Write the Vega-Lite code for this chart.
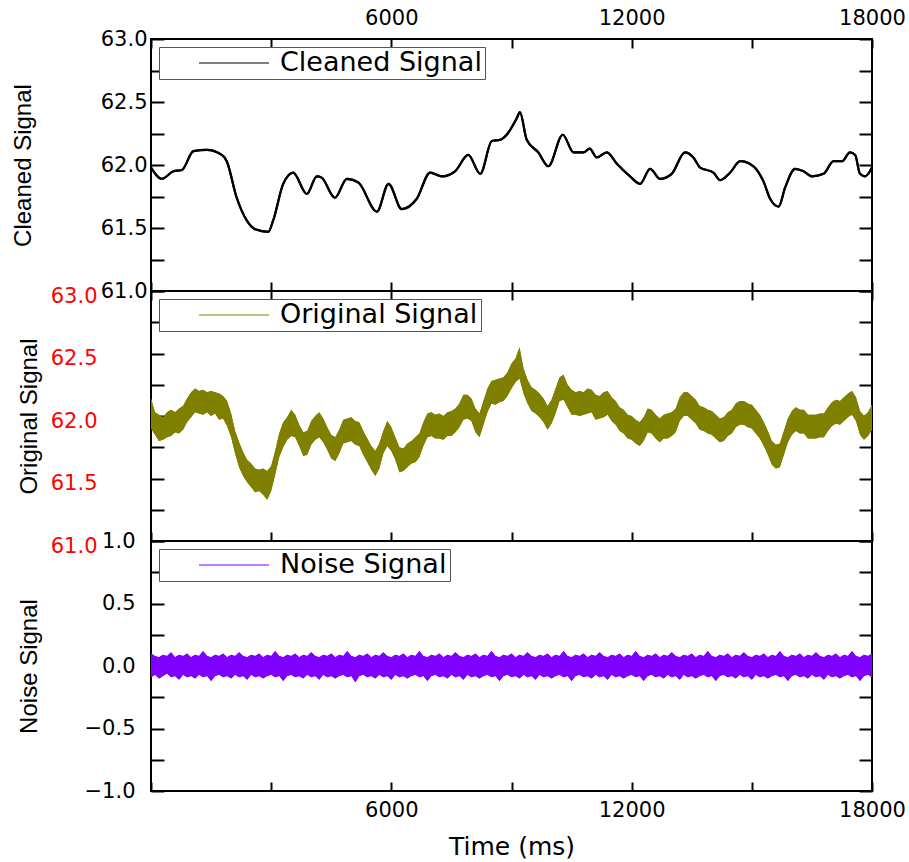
{
  "$schema": "https://vega.github.io/schema/vega-lite/v6.json",
  "padding": {"left": 10, "top": 6, "right": 5, "bottom": 0},
  "background": "white",
  "bounds": "flush",
  "spacing": 0,
  "datasets": {
    "clean": [
      {"t":0,"v":61.98},{"t":270,"v":61.89},{"t":560,"v":61.95},{"t":770,"v":61.96},{"t":1060,"v":62.11},{"t":1390,"v":62.12},{"t":1770,"v":62.08},{"t":1890,"v":62.03},{"t":2140,"v":61.74},{"t":2390,"v":61.56},{"t":2600,"v":61.49},{"t":2930,"v":61.47},{"t":3050,"v":61.56},{"t":3300,"v":61.85},{"t":3550,"v":61.94},{"t":3890,"v":61.77},{"t":4140,"v":61.91},{"t":4260,"v":61.90},{"t":4590,"v":61.74},{"t":4890,"v":61.89},{"t":5180,"v":61.86},{"t":5640,"v":61.63},{"t":5930,"v":61.85},{"t":6260,"v":61.65},{"t":6630,"v":61.73},{"t":6970,"v":61.94},{"t":7260,"v":61.91},{"t":7590,"v":61.95},{"t":7920,"v":62.08},{"t":8220,"v":61.93},{"t":8510,"v":62.19},{"t":8720,"v":62.20},{"t":8880,"v":62.24},{"t":9130,"v":62.37},{"t":9210,"v":62.42},{"t":9380,"v":62.20},{"t":9670,"v":62.10},{"t":9920,"v":61.99},{"t":10280,"v":62.24},{"t":10550,"v":62.10},{"t":10800,"v":62.10},{"t":10950,"v":62.13},{"t":11130,"v":62.06},{"t":11380,"v":62.10},{"t":11630,"v":62.01},{"t":11960,"v":61.91},{"t":12210,"v":61.85},{"t":12460,"v":61.97},{"t":12710,"v":61.89},{"t":13000,"v":61.93},{"t":13330,"v":62.10},{"t":13540,"v":62.06},{"t":13710,"v":61.98},{"t":14040,"v":61.94},{"t":14210,"v":61.88},{"t":14460,"v":61.94},{"t":14710,"v":62.03},{"t":15040,"v":61.99},{"t":15290,"v":61.87},{"t":15460,"v":61.73},{"t":15670,"v":61.67},{"t":15830,"v":61.82},{"t":16080,"v":61.97},{"t":16290,"v":61.95},{"t":16500,"v":61.91},{"t":16790,"v":61.93},{"t":17040,"v":62.03},{"t":17250,"v":62.03},{"t":17450,"v":62.10},{"t":17580,"v":62.08},{"t":17700,"v":61.93},{"t":17830,"v":61.91},{"t":18000,"v":61.98}
    ],
    "band": [
      {"t":0,"lo":61.90,"hi":62.14,"nl":-0.09,"nh":0.10},
      {"t":100,"lo":61.85,"hi":62.03,"nl":-0.07,"nh":0.08},
      {"t":200,"lo":61.80,"hi":62.01,"nl":-0.10,"nh":0.07},
      {"t":300,"lo":61.81,"hi":61.99,"nl":-0.08,"nh":0.09},
      {"t":400,"lo":61.83,"hi":62.03,"nl":-0.06,"nh":0.08},
      {"t":500,"lo":61.84,"hi":62.05,"nl":-0.09,"nh":0.11},
      {"t":600,"lo":61.87,"hi":62.03,"nl":-0.08,"nh":0.07},
      {"t":700,"lo":61.86,"hi":62.06,"nl":-0.11,"nh":0.09},
      {"t":800,"lo":61.89,"hi":62.08,"nl":-0.07,"nh":0.08},
      {"t":900,"lo":61.95,"hi":62.14,"nl":-0.09,"nh":0.10},
      {"t":1000,"lo":61.99,"hi":62.19,"nl":-0.08,"nh":0.07},
      {"t":1100,"lo":62.03,"hi":62.22,"nl":-0.10,"nh":0.09},
      {"t":1200,"lo":62.02,"hi":62.20,"nl":-0.07,"nh":0.08},
      {"t":1300,"lo":62.01,"hi":62.21,"nl":-0.09,"nh":0.12},
      {"t":1400,"lo":62.03,"hi":62.19,"nl":-0.08,"nh":0.08},
      {"t":1500,"lo":62.00,"hi":62.20,"nl":-0.12,"nh":0.07},
      {"t":1600,"lo":62.02,"hi":62.19,"nl":-0.08,"nh":0.09},
      {"t":1700,"lo":61.97,"hi":62.18,"nl":-0.07,"nh":0.08},
      {"t":1800,"lo":61.98,"hi":62.16,"nl":-0.09,"nh":0.10},
      {"t":1900,"lo":61.92,"hi":62.12,"nl":-0.08,"nh":0.07},
      {"t":2000,"lo":61.83,"hi":62.02,"nl":-0.10,"nh":0.09},
      {"t":2100,"lo":61.70,"hi":61.88,"nl":-0.07,"nh":0.08},
      {"t":2200,"lo":61.59,"hi":61.79,"nl":-0.09,"nh":0.11},
      {"t":2300,"lo":61.52,"hi":61.71,"nl":-0.08,"nh":0.08},
      {"t":2400,"lo":61.47,"hi":61.65,"nl":-0.11,"nh":0.07},
      {"t":2500,"lo":61.43,"hi":61.62,"nl":-0.07,"nh":0.09},
      {"t":2600,"lo":61.39,"hi":61.58,"nl":-0.09,"nh":0.08},
      {"t":2700,"lo":61.40,"hi":61.57,"nl":-0.08,"nh":0.10},
      {"t":2800,"lo":61.37,"hi":61.58,"nl":-0.10,"nh":0.07},
      {"t":2900,"lo":61.33,"hi":61.56,"nl":-0.08,"nh":0.09},
      {"t":3000,"lo":61.40,"hi":61.60,"nl":-0.07,"nh":0.08},
      {"t":3100,"lo":61.53,"hi":61.72,"nl":-0.09,"nh":0.12},
      {"t":3200,"lo":61.67,"hi":61.86,"nl":-0.08,"nh":0.08},
      {"t":3300,"lo":61.75,"hi":61.95,"nl":-0.12,"nh":0.07},
      {"t":3400,"lo":61.81,"hi":61.99,"nl":-0.08,"nh":0.09},
      {"t":3500,"lo":61.84,"hi":62.05,"nl":-0.07,"nh":0.08},
      {"t":3600,"lo":61.83,"hi":62.01,"nl":-0.09,"nh":0.10},
      {"t":3700,"lo":61.76,"hi":61.93,"nl":-0.08,"nh":0.07},
      {"t":3800,"lo":61.68,"hi":61.87,"nl":-0.10,"nh":0.09},
      {"t":3900,"lo":61.69,"hi":61.88,"nl":-0.07,"nh":0.08},
      {"t":4000,"lo":61.77,"hi":61.96,"nl":-0.09,"nh":0.11},
      {"t":4100,"lo":61.81,"hi":62.00,"nl":-0.08,"nh":0.08},
      {"t":4200,"lo":61.83,"hi":62.03,"nl":-0.11,"nh":0.07},
      {"t":4300,"lo":61.79,"hi":61.98,"nl":-0.07,"nh":0.09},
      {"t":4400,"lo":61.73,"hi":61.91,"nl":-0.09,"nh":0.08},
      {"t":4500,"lo":61.66,"hi":61.85,"nl":-0.08,"nh":0.10},
      {"t":4600,"lo":61.64,"hi":61.83,"nl":-0.10,"nh":0.07},
      {"t":4700,"lo":61.70,"hi":61.89,"nl":-0.08,"nh":0.09},
      {"t":4800,"lo":61.78,"hi":61.97,"nl":-0.07,"nh":0.08},
      {"t":4900,"lo":61.79,"hi":61.98,"nl":-0.09,"nh":0.12},
      {"t":5000,"lo":61.80,"hi":61.99,"nl":-0.08,"nh":0.08},
      {"t":5100,"lo":61.77,"hi":61.96,"nl":-0.13,"nh":0.07},
      {"t":5200,"lo":61.76,"hi":61.95,"nl":-0.08,"nh":0.09},
      {"t":5300,"lo":61.69,"hi":61.88,"nl":-0.07,"nh":0.08},
      {"t":5400,"lo":61.63,"hi":61.82,"nl":-0.09,"nh":0.10},
      {"t":5500,"lo":61.57,"hi":61.76,"nl":-0.08,"nh":0.07},
      {"t":5600,"lo":61.52,"hi":61.72,"nl":-0.10,"nh":0.09},
      {"t":5700,"lo":61.58,"hi":61.78,"nl":-0.07,"nh":0.08},
      {"t":5800,"lo":61.70,"hi":61.88,"nl":-0.09,"nh":0.11},
      {"t":5900,"lo":61.76,"hi":61.96,"nl":-0.08,"nh":0.08},
      {"t":6000,"lo":61.72,"hi":61.91,"nl":-0.11,"nh":0.07},
      {"t":6100,"lo":61.65,"hi":61.83,"nl":-0.07,"nh":0.09},
      {"t":6200,"lo":61.55,"hi":61.75,"nl":-0.09,"nh":0.08},
      {"t":6300,"lo":61.56,"hi":61.74,"nl":-0.08,"nh":0.10},
      {"t":6400,"lo":61.59,"hi":61.78,"nl":-0.10,"nh":0.07},
      {"t":6500,"lo":61.62,"hi":61.80,"nl":-0.08,"nh":0.09},
      {"t":6600,"lo":61.63,"hi":61.83,"nl":-0.07,"nh":0.08},
      {"t":6700,"lo":61.67,"hi":61.86,"nl":-0.09,"nh":0.12},
      {"t":6800,"lo":61.76,"hi":61.95,"nl":-0.08,"nh":0.08},
      {"t":6900,"lo":61.83,"hi":62.02,"nl":-0.12,"nh":0.07},
      {"t":7000,"lo":61.84,"hi":62.03,"nl":-0.08,"nh":0.09},
      {"t":7100,"lo":61.82,"hi":62.01,"nl":-0.07,"nh":0.08},
      {"t":7200,"lo":61.82,"hi":62.02,"nl":-0.09,"nh":0.10},
      {"t":7300,"lo":61.81,"hi":62.00,"nl":-0.08,"nh":0.07},
      {"t":7400,"lo":61.84,"hi":62.03,"nl":-0.10,"nh":0.09},
      {"t":7500,"lo":61.84,"hi":62.04,"nl":-0.07,"nh":0.08},
      {"t":7600,"lo":61.87,"hi":62.06,"nl":-0.09,"nh":0.11},
      {"t":7700,"lo":61.91,"hi":62.10,"nl":-0.08,"nh":0.08},
      {"t":7800,"lo":61.97,"hi":62.17,"nl":-0.11,"nh":0.07},
      {"t":7900,"lo":61.98,"hi":62.17,"nl":-0.07,"nh":0.09},
      {"t":8000,"lo":61.96,"hi":62.14,"nl":-0.09,"nh":0.08},
      {"t":8100,"lo":61.87,"hi":62.06,"nl":-0.08,"nh":0.10},
      {"t":8200,"lo":61.83,"hi":62.02,"nl":-0.10,"nh":0.07},
      {"t":8300,"lo":61.93,"hi":62.12,"nl":-0.08,"nh":0.09},
      {"t":8400,"lo":62.03,"hi":62.22,"nl":-0.07,"nh":0.08},
      {"t":8500,"lo":62.10,"hi":62.28,"nl":-0.09,"nh":0.12},
      {"t":8600,"lo":62.09,"hi":62.29,"nl":-0.08,"nh":0.08},
      {"t":8700,"lo":62.11,"hi":62.30,"nl":-0.12,"nh":0.07},
      {"t":8800,"lo":62.12,"hi":62.31,"nl":-0.08,"nh":0.09},
      {"t":8900,"lo":62.16,"hi":62.35,"nl":-0.07,"nh":0.08},
      {"t":9000,"lo":62.22,"hi":62.42,"nl":-0.09,"nh":0.10},
      {"t":9100,"lo":62.27,"hi":62.46,"nl":-0.08,"nh":0.07},
      {"t":9200,"lo":62.30,"hi":62.55,"nl":-0.10,"nh":0.09},
      {"t":9300,"lo":62.18,"hi":62.38,"nl":-0.07,"nh":0.08},
      {"t":9400,"lo":62.10,"hi":62.29,"nl":-0.09,"nh":0.11},
      {"t":9500,"lo":62.04,"hi":62.23,"nl":-0.08,"nh":0.08},
      {"t":9600,"lo":62.02,"hi":62.21,"nl":-0.11,"nh":0.07},
      {"t":9700,"lo":61.99,"hi":62.18,"nl":-0.07,"nh":0.09},
      {"t":9800,"lo":61.95,"hi":62.14,"nl":-0.09,"nh":0.08},
      {"t":9900,"lo":61.89,"hi":62.08,"nl":-0.08,"nh":0.10},
      {"t":10000,"lo":61.94,"hi":62.13,"nl":-0.10,"nh":0.07},
      {"t":10100,"lo":62.02,"hi":62.22,"nl":-0.08,"nh":0.09},
      {"t":10200,"lo":62.12,"hi":62.31,"nl":-0.07,"nh":0.08},
      {"t":10300,"lo":62.13,"hi":62.33,"nl":-0.09,"nh":0.12},
      {"t":10400,"lo":62.07,"hi":62.25,"nl":-0.08,"nh":0.08},
      {"t":10500,"lo":62.01,"hi":62.21,"nl":-0.12,"nh":0.07},
      {"t":10600,"lo":62.01,"hi":62.19,"nl":-0.08,"nh":0.09},
      {"t":10700,"lo":62.00,"hi":62.20,"nl":-0.07,"nh":0.08},
      {"t":10800,"lo":62.01,"hi":62.19,"nl":-0.09,"nh":0.10},
      {"t":10900,"lo":62.02,"hi":62.22,"nl":-0.08,"nh":0.07},
      {"t":11000,"lo":62.03,"hi":62.21,"nl":-0.10,"nh":0.09},
      {"t":11100,"lo":61.97,"hi":62.17,"nl":-0.07,"nh":0.08},
      {"t":11200,"lo":61.98,"hi":62.16,"nl":-0.09,"nh":0.11},
      {"t":11300,"lo":61.99,"hi":62.19,"nl":-0.08,"nh":0.08},
      {"t":11400,"lo":62.01,"hi":62.20,"nl":-0.11,"nh":0.07},
      {"t":11500,"lo":61.96,"hi":62.15,"nl":-0.07,"nh":0.09},
      {"t":11600,"lo":61.93,"hi":62.12,"nl":-0.09,"nh":0.08},
      {"t":11700,"lo":61.88,"hi":62.07,"nl":-0.08,"nh":0.10},
      {"t":11800,"lo":61.86,"hi":62.05,"nl":-0.10,"nh":0.07},
      {"t":11900,"lo":61.82,"hi":62.01,"nl":-0.08,"nh":0.09},
      {"t":12000,"lo":61.81,"hi":62.00,"nl":-0.07,"nh":0.08},
      {"t":12100,"lo":61.78,"hi":61.97,"nl":-0.09,"nh":0.12},
      {"t":12200,"lo":61.76,"hi":61.95,"nl":-0.08,"nh":0.08},
      {"t":12300,"lo":61.80,"hi":61.99,"nl":-0.12,"nh":0.07},
      {"t":12400,"lo":61.87,"hi":62.06,"nl":-0.08,"nh":0.09},
      {"t":12500,"lo":61.86,"hi":62.05,"nl":-0.07,"nh":0.08},
      {"t":12600,"lo":61.82,"hi":62.01,"nl":-0.09,"nh":0.10},
      {"t":12700,"lo":61.79,"hi":61.98,"nl":-0.08,"nh":0.07},
      {"t":12800,"lo":61.82,"hi":62.01,"nl":-0.10,"nh":0.09},
      {"t":12900,"lo":61.82,"hi":62.02,"nl":-0.07,"nh":0.08},
      {"t":13000,"lo":61.84,"hi":62.03,"nl":-0.09,"nh":0.11},
      {"t":13100,"lo":61.87,"hi":62.06,"nl":-0.08,"nh":0.08},
      {"t":13200,"lo":61.96,"hi":62.15,"nl":-0.11,"nh":0.07},
      {"t":13300,"lo":62.00,"hi":62.19,"nl":-0.07,"nh":0.09},
      {"t":13400,"lo":62.00,"hi":62.19,"nl":-0.09,"nh":0.08},
      {"t":13500,"lo":61.97,"hi":62.16,"nl":-0.08,"nh":0.10},
      {"t":13600,"lo":61.94,"hi":62.13,"nl":-0.10,"nh":0.07},
      {"t":13700,"lo":61.89,"hi":62.08,"nl":-0.08,"nh":0.09},
      {"t":13800,"lo":61.88,"hi":62.07,"nl":-0.07,"nh":0.08},
      {"t":13900,"lo":61.86,"hi":62.05,"nl":-0.09,"nh":0.12},
      {"t":14000,"lo":61.85,"hi":62.04,"nl":-0.08,"nh":0.08},
      {"t":14100,"lo":61.82,"hi":62.01,"nl":-0.12,"nh":0.07},
      {"t":14200,"lo":61.79,"hi":61.98,"nl":-0.08,"nh":0.09},
      {"t":14300,"lo":61.80,"hi":61.99,"nl":-0.07,"nh":0.08},
      {"t":14400,"lo":61.84,"hi":62.03,"nl":-0.09,"nh":0.10},
      {"t":14500,"lo":61.86,"hi":62.05,"nl":-0.08,"nh":0.07},
      {"t":14600,"lo":61.91,"hi":62.10,"nl":-0.10,"nh":0.09},
      {"t":14700,"lo":61.93,"hi":62.12,"nl":-0.07,"nh":0.08},
      {"t":14800,"lo":61.93,"hi":62.12,"nl":-0.09,"nh":0.11},
      {"t":14900,"lo":61.91,"hi":62.10,"nl":-0.08,"nh":0.08},
      {"t":15000,"lo":61.90,"hi":62.09,"nl":-0.11,"nh":0.07},
      {"t":15100,"lo":61.86,"hi":62.05,"nl":-0.07,"nh":0.09},
      {"t":15200,"lo":61.82,"hi":62.01,"nl":-0.09,"nh":0.08},
      {"t":15300,"lo":61.76,"hi":61.95,"nl":-0.08,"nh":0.10},
      {"t":15400,"lo":61.69,"hi":61.88,"nl":-0.10,"nh":0.07},
      {"t":15500,"lo":61.61,"hi":61.80,"nl":-0.08,"nh":0.09},
      {"t":15600,"lo":61.58,"hi":61.77,"nl":-0.07,"nh":0.08},
      {"t":15700,"lo":61.59,"hi":61.78,"nl":-0.09,"nh":0.12},
      {"t":15800,"lo":61.69,"hi":61.88,"nl":-0.08,"nh":0.08},
      {"t":15900,"lo":61.79,"hi":61.98,"nl":-0.12,"nh":0.07},
      {"t":16000,"lo":61.85,"hi":62.04,"nl":-0.08,"nh":0.09},
      {"t":16100,"lo":61.88,"hi":62.07,"nl":-0.07,"nh":0.08},
      {"t":16200,"lo":61.86,"hi":62.05,"nl":-0.09,"nh":0.10},
      {"t":16300,"lo":61.86,"hi":62.05,"nl":-0.08,"nh":0.07},
      {"t":16400,"lo":61.82,"hi":62.01,"nl":-0.10,"nh":0.09},
      {"t":16500,"lo":61.82,"hi":62.01,"nl":-0.07,"nh":0.08},
      {"t":16600,"lo":61.82,"hi":62.01,"nl":-0.09,"nh":0.11},
      {"t":16700,"lo":61.83,"hi":62.02,"nl":-0.08,"nh":0.08},
      {"t":16800,"lo":61.83,"hi":62.02,"nl":-0.11,"nh":0.07},
      {"t":16900,"lo":61.88,"hi":62.07,"nl":-0.07,"nh":0.09},
      {"t":17000,"lo":61.92,"hi":62.11,"nl":-0.09,"nh":0.08},
      {"t":17100,"lo":61.94,"hi":62.13,"nl":-0.08,"nh":0.10},
      {"t":17200,"lo":61.93,"hi":62.12,"nl":-0.10,"nh":0.07},
      {"t":17300,"lo":61.96,"hi":62.15,"nl":-0.08,"nh":0.09},
      {"t":17400,"lo":61.99,"hi":62.18,"nl":-0.07,"nh":0.08},
      {"t":17500,"lo":62.01,"hi":62.20,"nl":-0.09,"nh":0.12},
      {"t":17600,"lo":61.96,"hi":62.15,"nl":-0.08,"nh":0.08},
      {"t":17700,"lo":61.85,"hi":62.04,"nl":-0.12,"nh":0.07},
      {"t":17800,"lo":61.81,"hi":62.00,"nl":-0.08,"nh":0.09},
      {"t":17900,"lo":61.84,"hi":62.03,"nl":-0.07,"nh":0.08},
      {"t":18000,"lo":61.89,"hi":62.09,"nl":-0.09,"nh":0.10}
    ]
  },
  "config": {
    "view": {"stroke": "black", "strokeWidth": 2},
    "axis": {
      "domain": false, "grid": false, "tickColor": "black", "tickWidth": 2,
      "labelFont": "DejaVu Sans", "labelFontSize": 21, "labelColor": "black",
      "labelOverlap": false, "labelBound": false, "labelFlush": false,
      "titleFont": "Liberation Sans", "titleFontSize": 24, "titleFontWeight": "normal", "titleColor": "black"
    },
    "legend": {
      "orient": "top-left", "offset": 8, "title": null,
      "symbolType": "stroke", "symbolSize": 4900, "symbolStrokeWidth": 1.2, "symbolOffset": 36, "clipHeight": 26,
      "labelFont": "DejaVu Sans", "labelFontSize": 27, "labelColor": "black", "labelOffset": 10, "labelLimit": 600,
      "padding": 3, "strokeColor": "#555555", "fillColor": "white"
    }
  },
  "resolve": {"scale": {"color": "independent"}, "legend": {"color": "independent"}},
  "vconcat": [
    {
      "width": 721, "height": 252,
      "data": {"name": "clean"},
      "layer": [
        {
          "mark": {"type": "line", "strokeWidth": 2.2, "interpolate": "monotone", "clip": true},
          "encoding": {
            "x": {"field": "t", "type": "quantitative", "scale": {"domain": [0, 18000], "nice": false},
                  "axis": {"orient": "top", "title": null, "values": [0,3000,6000,9000,12000,15000,18000], "tickSize": -9, "labelPadding": 20,
                           "labelExpr": "datum.value % 6000 == 0 && datum.value > 0 ? format(datum.value, 'd') : ''"}},
            "y": {"field": "v", "type": "quantitative", "scale": {"domain": [61, 63], "nice": false, "zero": false},
                  "axis": {"orient": "left", "title": "Cleaned Signal", "values": [61,61.25,61.5,61.75,62,62.25,62.5,62.75,63], "tickSize": -13, "labelPadding": 17, "titleX": -116,
                           "labelExpr": "(datum.value * 4) % 2 == 0 ? format(datum.value, '.1f') : ''"}},
            "color": {"datum": "Cleaned Signal", "type": "nominal", "scale": {"range": ["black"]},
                      "legend": {"symbolStrokeColor": "black", "symbolStrokeWidth": 1.2}}
          }
        },
        {
          "mark": {"type": "line", "strokeWidth": 2.2, "interpolate": "monotone", "color": "black", "clip": true},
          "encoding": {
            "x": {"field": "t", "type": "quantitative", "scale": {"domain": [0, 18000], "nice": false},
                  "axis": {"orient": "bottom", "title": null, "labels": false, "values": [0,3000,6000,9000,12000,15000,18000], "tickSize": -9}},
            "y": {"field": "v", "type": "quantitative", "scale": {"domain": [61, 63], "nice": false, "zero": false},
                  "axis": {"orient": "right", "title": null, "labels": false, "values": [61,61.25,61.5,61.75,62,62.25,62.5,62.75,63], "tickSize": -13}}
          }
        }
      ],
      "resolve": {"axis": {"x": "independent", "y": "independent"}}
    },
    {
      "width": 721, "height": 250,
      "data": {"name": "band"},
      "layer": [
        {
          "mark": {"type": "area", "clip": true},
          "encoding": {
            "x": {"field": "t", "type": "quantitative", "scale": {"domain": [0, 18000], "nice": false},
                  "axis": {"orient": "top", "title": null, "labels": false, "values": [0,3000,6000,9000,12000,15000,18000], "tickSize": -9}},
            "y": {"field": "lo", "type": "quantitative", "scale": {"domain": [61, 63], "nice": false, "zero": false},
                  "axis": {"orient": "left", "title": "Original Signal", "values": [61,61.25,61.5,61.75,62,62.25,62.5,62.75,63], "tickSize": -13, "labelPadding": 67, "labelOffset": 5, "labelColor": "#ff0000", "titleX": -110,
                           "labelExpr": "(datum.value * 4) % 2 == 0 ? format(datum.value, '.1f') : ''"}},
            "y2": {"field": "hi"},
            "color": {"datum": "Original Signal", "type": "nominal", "scale": {"range": ["#808000"]},
                      "legend": {"symbolStrokeColor": "#808000", "symbolStrokeWidth": 1.2}}
          }
        },
        {
          "mark": {"type": "area", "color": "#808000", "clip": true},
          "encoding": {
            "x": {"field": "t", "type": "quantitative", "scale": {"domain": [0, 18000], "nice": false},
                  "axis": {"orient": "bottom", "title": null, "labels": false, "values": [0,3000,6000,9000,12000,15000,18000], "tickSize": -9}},
            "y": {"field": "lo", "type": "quantitative", "scale": {"domain": [61, 63], "nice": false, "zero": false},
                  "axis": {"orient": "right", "title": null, "labels": false, "values": [61,61.25,61.5,61.75,62,62.25,62.5,62.75,63], "tickSize": -13}},
            "y2": {"field": "hi"}
          }
        }
      ],
      "resolve": {"axis": {"x": "independent", "y": "independent"}}
    },
    {
      "width": 721, "height": 250,
      "data": {"name": "band"},
      "layer": [
        {
          "mark": {"type": "area", "clip": true},
          "encoding": {
            "x": {"field": "t", "type": "quantitative", "scale": {"domain": [0, 18000], "nice": false},
                  "axis": {"orient": "bottom", "title": "Time (ms)", "titleFont": "DejaVu Sans", "titleFontSize": 25, "titlePadding": 14, "values": [0,3000,6000,9000,12000,15000,18000], "tickSize": -9, "labelPadding": 17,
                           "labelExpr": "datum.value % 6000 == 0 && datum.value > 0 ? format(datum.value, 'd') : ''"}},
            "y": {"field": "nl", "type": "quantitative", "scale": {"domain": [-1, 1], "nice": false, "zero": false},
                  "axis": {"orient": "left", "title": "Noise Signal", "values": [-1,-0.75,-0.5,-0.25,0,0.25,0.5,0.75,1], "tickSize": -13, "labelPadding": 29, "titleX": -110,
                           "labelExpr": "(datum.value * 4) % 2 == 0 ? format(datum.value, '.1f') : ''"}},
            "y2": {"field": "nh"},
            "color": {"datum": "Noise Signal", "type": "nominal", "scale": {"range": ["#8000ff"]},
                      "legend": {"symbolStrokeColor": "#8000ff", "symbolStrokeWidth": 1.2}}
          }
        },
        {
          "mark": {"type": "area", "color": "#8000ff", "clip": true},
          "encoding": {
            "x": {"field": "t", "type": "quantitative", "scale": {"domain": [0, 18000], "nice": false}, "axis": null},
            "y": {"field": "nl", "type": "quantitative", "scale": {"domain": [-1, 1], "nice": false, "zero": false},
                  "axis": {"orient": "right", "title": null, "labels": false, "values": [-1,-0.75,-0.5,-0.25,0,0.25,0.5,0.75,1], "tickSize": -13}},
            "y2": {"field": "nh"}
          }
        }
      ],
      "resolve": {"axis": {"x": "independent", "y": "independent"}}
    }
  ]
}
